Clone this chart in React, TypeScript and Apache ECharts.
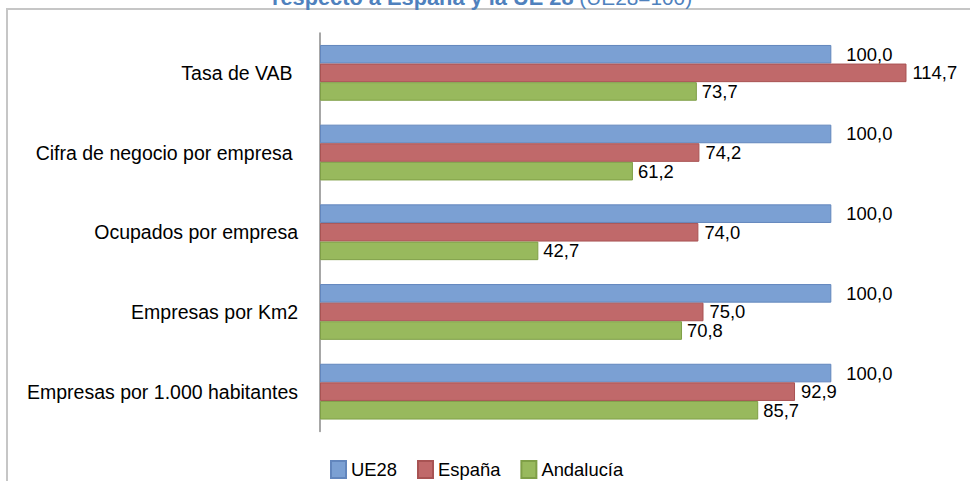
import React, { useEffect, useRef } from "react";
import * as echarts from "echarts";

const categories = [
  "Tasa de VAB ",
  "Cifra de negocio por empresa ",
  "Ocupados por empresa",
  "Empresas por Km2",
  "Empresas por 1.000 habitantes",
];
const seriesNames = ["UE28", "España", "Andalucía"];
const ue28 = [100.0, 100.0, 100.0, 100.0, 100.0];
const espana = [114.7, 74.2, 74.0, 75.0, 92.9];
const andalucia = [73.7, 61.2, 42.7, 70.8, 85.7];

const FONT = "'Liberation Sans', Arial, sans-serif";

const fmt = (v: number) => v.toFixed(1).replace(".", ",");

export default function App() {
  const ref = useRef<HTMLDivElement>(null);
  useEffect(() => {
    if (!ref.current) return;
    const chart = echarts.init(ref.current, undefined, { renderer: "svg" });
    const fills = ["#7ba0d3", "#c0696a", "#98b95d"];
    const borders = ["#6286bd", "#a85353", "#7f9f47"];
    const distances = [15, 6, 5];
    const datas = [ue28, espana, andalucia];
    chart.setOption({
      animation: false,
      backgroundColor: "#ffffff",
      textStyle: { fontFamily: FONT },
      grid: {
        left: 320,
        top: 33,
        right: 36.4,
        bottom: 49.5,
        containLabel: false,
        outerBoundsMode: "none",
      },
      xAxis: {
        type: "value",
        min: 0,
        max: 120,
        show: false,
        splitLine: { show: false },
      },
      yAxis: {
        type: "category",
        data: categories,
        inverse: true,
        axisLine: { show: true, lineStyle: { color: "#8a8a8a", width: 1.5 } },
        axisTick: { show: false },
        axisLabel: {
          margin: 22,
          fontSize: 19.5,
          color: "#000000",
          fontFamily: FONT,
        },
      },
      legend: {
        data: seriesNames,
        left: 325,
        top: 455,
        itemWidth: 15,
        itemHeight: 17,
        itemGap: 20,
        icon: "rect",
        textStyle: { fontSize: 18.4, color: "#000000", fontFamily: FONT },
      },
      graphic: [
        {
          type: "rect",
          shape: { x: 7, y: 9, width: 1000, height: 600 },
          style: { fill: "none", stroke: "#c6c6c6", lineWidth: 2 },
          silent: true,
        },
        {
          type: "text",
          x: 482,
          y: -2.5,
          style: {
            text: "{b|respecto a España y la UE 28}{n| (UE28=100)}",
            align: "center",
            verticalAlign: "middle",
            rich: {
              b: { fontSize: 21.8, fontWeight: "bold", fill: "#4f81bd", fontFamily: FONT },
              n: { fontSize: 20.8, fill: "#4f81bd", fontFamily: FONT },
            },
          },
          silent: true,
        },
      ],
      series: seriesNames.map((name, i) => ({
        name,
        type: "bar",
        data: datas[i],
        barGap: "0%",
        barCategoryGap: "30%",
        itemStyle: { color: fills[i], borderColor: borders[i], borderWidth: 1 },
        label: {
          show: true,
          position: "right",
          distance: distances[i],
          fontSize: 18.4,
          color: "#000000",
          fontFamily: FONT,
          formatter: (p: any) => fmt(p.value),
        },
      })),
    });
    return () => chart.dispose();
  }, []);
  return (
    <div
      ref={ref}
      style={{ position: "fixed", left: 0, top: 0, width: 970, height: 481 }}
    />
  );
}
